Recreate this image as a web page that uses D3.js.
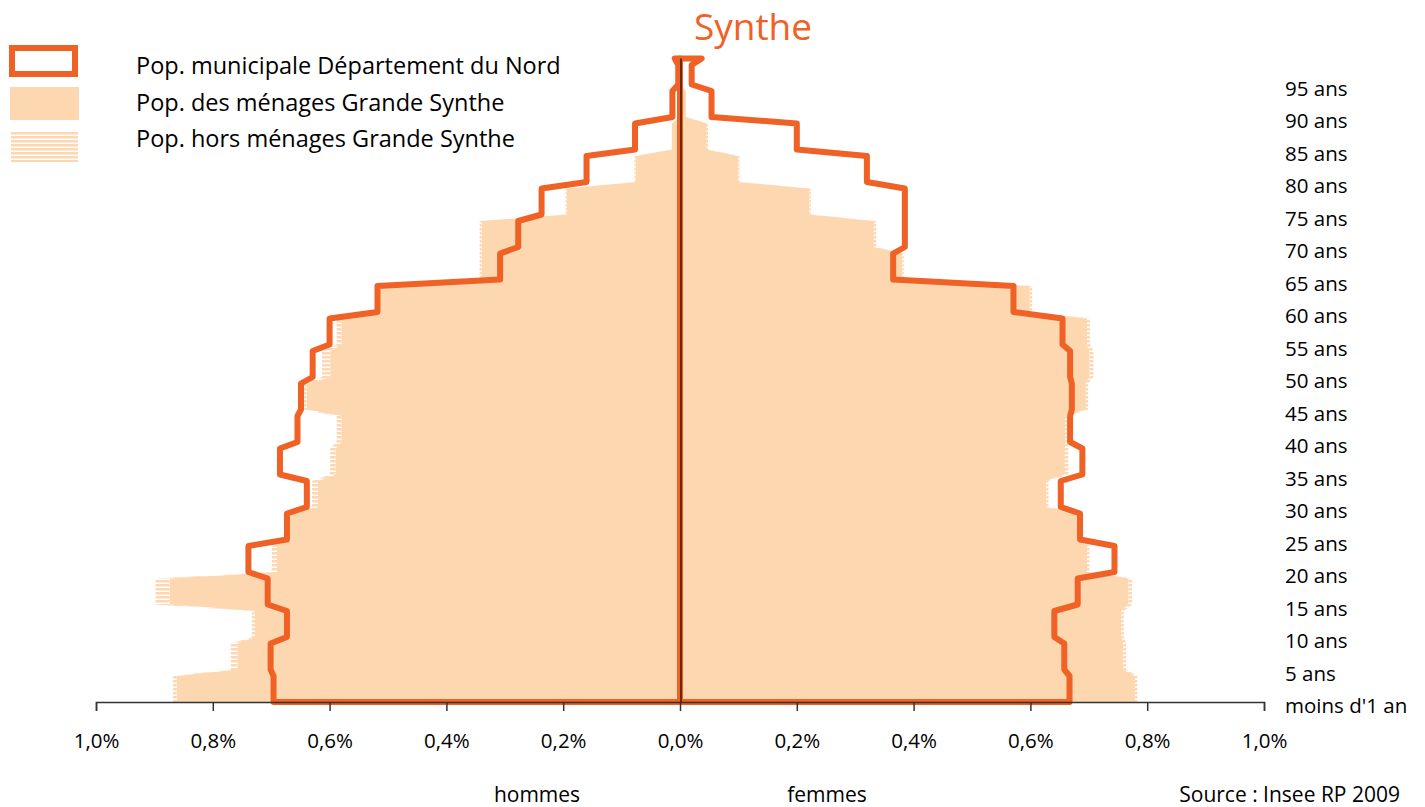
<!DOCTYPE html>
<html>
<head>
<meta charset="utf-8">
<script src="https://cdn.jsdelivr.net/npm/d3@7"></script>
<style>
  body { margin: 0; background: #fff; }
  text { font-family: "Open Sans", sans-serif; fill: #000; }
</style>
</head>
<body>
<div id="chart"></div>
<script>
// age groups (first and last age of each group)
var groupStart = [0, 5, 10, 15, 20, 25, 30, 35, 40, 45, 50, 55, 60, 65, 70, 75, 80, 85, 90, 95, 99];
var groupEnd   = [4, 9, 14, 19, 24, 29, 34, 39, 44, 49, 54, 59, 64, 69, 74, 79, 84, 89, 94, 98, 99];

// Pop. municipale Departement du Nord (% per year of age)
var nordHommes = [0.696, 0.701, 0.673, 0.706, 0.739, 0.673, 0.639, 0.685, 0.655, 0.649, 0.629,
                  0.600, 0.518, 0.308, 0.277, 0.237, 0.160, 0.077, 0.013, 0.003, 0.009];
var nordFemmes = [0.667, 0.658, 0.641, 0.681, 0.744, 0.685, 0.652, 0.689, 0.668, 0.671, 0.668,
                  0.655, 0.571, 0.365, 0.385, 0.385, 0.320, 0.200, 0.054, 0.020, 0.037];

// Pop. des menages Grande Synthe
var menagesHommes = [0.862, 0.758, 0.728, 0.874, 0.690, 0.675, 0.620, 0.590, 0.580, 0.639, 0.599,
                     0.580, 0.515, 0.340, 0.340, 0.194, 0.076, 0.014, 0, 0, 0];
var menagesFemmes = [0.779, 0.759, 0.756, 0.768, 0.697, 0.685, 0.627, 0.659, 0.660, 0.695, 0.701,
                     0.697, 0.599, 0.381, 0.332, 0.222, 0.100, 0.046, 0.010, 0, 0];

// Pop. hors menages Grande Synthe (stacked on menages)
var horsHommes = [0.006, 0.011, 0.005, 0.024, 0.009, 0.003, 0.010, 0.009, 0.008, 0.005, 0.014,
                  0.008, 0.003, 0.003, 0.003, 0.002, 0.002, 0, 0, 0, 0];
var horsFemmes = [0.004, 0.005, 0.004, 0.006, 0.004, 0.002, 0.004, 0.006, 0.004, 0.004, 0.007,
                  0.005, 0.004, 0.002, 0.004, 0.002, 0.002, 0.002, 0, 0, 0];

var xTicks = [-1, -0.8, -0.6, -0.4, -0.2, 0, 0.2, 0.4, 0.6, 0.8, 1];
var ageTicks = [0, 5, 10, 15, 20, 25, 30, 35, 40, 45, 50, 55, 60, 65, 70, 75, 80, 85, 90, 95];
var ageLabels = ["moins d'1 an", "5 ans", "10 ans", "15 ans", "20 ans", "25 ans", "30 ans", "35 ans",
                 "40 ans", "45 ans", "50 ans", "55 ans", "60 ans", "65 ans", "70 ans", "75 ans",
                 "80 ans", "85 ans", "90 ans", "95 ans"];
var legendLabels = ["Pop. municipale Département du Nord", "Pop. des ménages Grande Synthe",
                    "Pop. hors ménages Grande Synthe"];

var orange = "#ef6125";
var peach = "#fdd7b0";

var svgWidth = 1425, svgHeight = 807;

var svg = d3.select("#chart").append("svg")
  .attr("width", svgWidth)
  .attr("height", svgHeight);

// stripes for the hors menages part
var defs = svg.append("defs");
var pat = defs.append("pattern")
  .attr("id", "hatch")
  .attr("patternUnits", "userSpaceOnUse")
  .attr("width", 8).attr("height", 4);
pat.append("rect").attr("width", 8).attr("height", 4).attr("fill", peach);
pat.append("rect").attr("y", 2.5).attr("width", 8).attr("height", 1.5).attr("fill", "#fff");

var x = d3.scaleLinear().domain([-1, 1]).range([96, 1264]);
var y = d3.scaleLinear().domain([0, 100]).range([702, 52]);

// one point at the first and last age of each group
function points(vals, sign) {
  var pts = [];
  vals.forEach(function(v, i) {
    pts.push({age: groupStart[i], v: sign * v});
    if (groupEnd[i] != groupStart[i]) pts.push({age: groupEnd[i], v: sign * v});
  });
  return pts;
}
function stacked(base, extra) {
  return base.map(function(b, i) { return b + extra[i]; });
}

var area = d3.area()
  .x0(x(0))
  .x1(d => x(d.v))
  .y(d => y(d.age));

var horsArea = d3.area()
  .x0(d => x(d.base))
  .x1(d => x(d.v))
  .y(d => y(d.age));

function horsPoints(base, extra, sign) {
  var tot = points(stacked(base, extra), sign);
  var b = points(base, sign);
  return tot.map(function(d, i) { return {age: d.age, v: d.v, base: b[i].v}; });
}

var chart = svg.append("g");

// menages fill
chart.append("path").attr("d", area(points(menagesHommes, -1))).attr("fill", peach);
chart.append("path").attr("d", area(points(menagesFemmes, 1))).attr("fill", peach);

// hors menages (hatched)
chart.append("path").attr("d", horsArea(horsPoints(menagesHommes, horsHommes, -1))).attr("fill", "url(#hatch)");
chart.append("path").attr("d", horsArea(horsPoints(menagesFemmes, horsFemmes, 1))).attr("fill", "url(#hatch)");

// Nord outline, closed on the centre axis
var line = d3.line().x(d => x(d.v)).y(d => y(d.age));
function outline(vals, sign) {
  var pts = points(vals, sign);
  pts.unshift({age: 0, v: 0});
  pts.push({age: 99, v: 0});
  return line(pts) + "Z";
}
[[nordHommes, -1], [nordFemmes, 1]].forEach(function(s) {
  chart.append("path")
    .attr("d", outline(s[0], s[1]))
    .attr("fill", "none")
    .attr("stroke", orange)
    .attr("stroke-width", 6)
    .attr("stroke-linejoin", "round");
});

// centre line
chart.append("line")
  .attr("x1", x(0) + 1).attr("x2", x(0) + 1)
  .attr("y1", y(99)).attr("y2", y(0))
  .attr("stroke", "#6b2a10")
  .attr("stroke-width", 2);

// x axis
var xAxis = d3.axisBottom(x)
  .tickValues(xTicks)
  .tickSize(9)
  .tickPadding(22)
  .tickFormat(d => d3.format(".1f")(Math.abs(d)).replace(".", ",") + "%");

var xg = chart.append("g")
  .attr("transform", `translate(0, ${y(0)})`)
  .call(xAxis);
xg.select(".domain").attr("stroke", "#333").attr("stroke-width", 1.5);
xg.selectAll(".tick line").attr("stroke", "#333").attr("stroke-width", 1.5);
xg.selectAll(".tick text")
  .style("font-size", "20.5px")
  .style("font-family", "'Open Sans', sans-serif")
  .attr("fill", "#000");

// age labels on the right
chart.selectAll(".age-label")
  .data(ageTicks)
  .enter()
  .append("text")
  .attr("class", "age-label")
  .attr("x", 1285)
  .attr("y", (d, i) => y(d) + 3)
  .attr("dominant-baseline", "central")
  .style("font-size", "20.5px")
  .text((d, i) => ageLabels[i]);

// axis titles
svg.append("text").attr("x", 537).attr("y", 802).attr("text-anchor", "middle")
  .style("font-size", "21px").text("hommes");
svg.append("text").attr("x", 827).attr("y", 802).attr("text-anchor", "middle")
  .style("font-size", "21px").text("femmes");
svg.append("text").attr("x", 1400).attr("y", 802).attr("text-anchor", "end")
  .style("font-size", "21px").text("Source : Insee RP 2009");

// title
svg.append("text").attr("x", 753).attr("y", 40).attr("text-anchor", "middle")
  .style("font-size", "37px").style("fill", orange).text("Synthe");

// legend
var legend = svg.append("g");
legend.append("rect").attr("x", 12).attr("y", 48).attr("width", 63).attr("height", 26)
  .attr("fill", "#fff").attr("stroke", orange).attr("stroke-width", 6);
legend.append("rect").attr("x", 10).attr("y", 87).attr("width", 69).attr("height", 33)
  .attr("fill", peach);
legend.append("rect").attr("x", 11).attr("y", 131).attr("width", 67).attr("height", 31)
  .attr("fill", "url(#hatch)");
legend.selectAll(".leg-text")
  .data(legendLabels)
  .enter()
  .append("text")
  .attr("class", "leg-text")
  .attr("x", 136)
  .attr("y", (d, i) => 65 + i * 36.5)
  .attr("dominant-baseline", "central")
  .style("font-size", "23.5px")
  .text(d => d);
</script>
</body>
</html>
